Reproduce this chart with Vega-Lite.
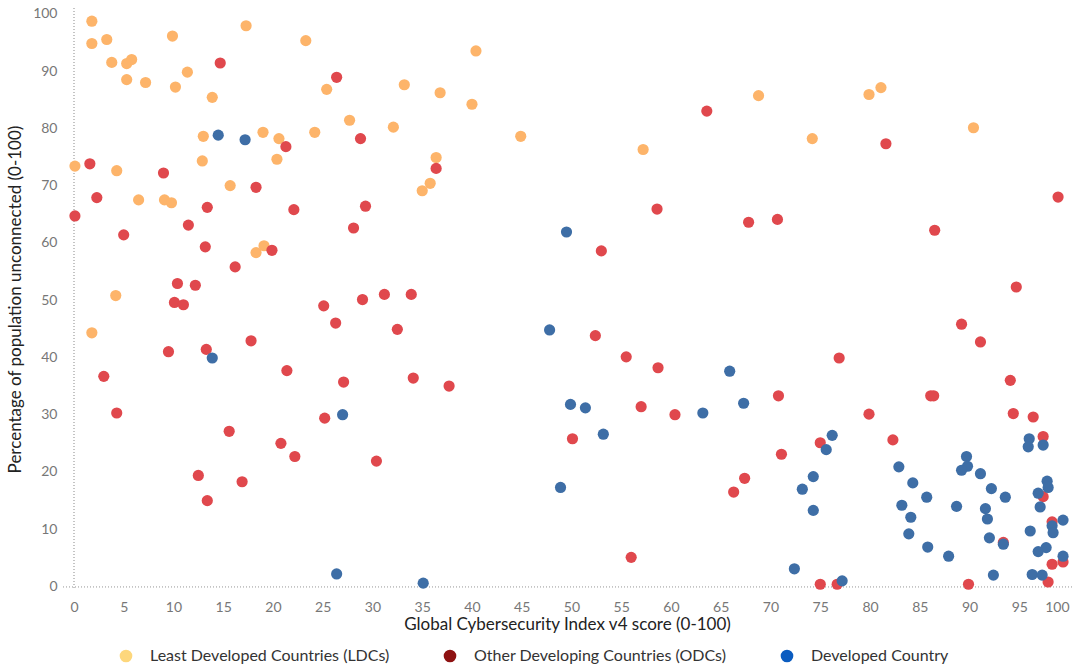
{
  "$schema": "https://vega.github.io/schema/vega-lite/v6.json",
  "width": 1010,
  "height": 582,
  "autosize": {"type": "none"},
  "padding": {"left": 62, "top": 8, "right": 4, "bottom": 80},
  "background": "white",
  "config": {
    "view": {"stroke": null},
    "font": "Lato",
    "axis": {"domain": false, "ticks": false, "gridColor": "#efefef", "gridWidth": 1, "labelColor": "#777777", "labelFont": "Lato", "labelFontSize": 14, "titleColor": "#222222", "titleFont": "Lato", "titleFontSize": 17, "titleFontWeight": "normal"}
  },
  "data": {"values": [
    {"group":"LDC","gci":1.8,"unconnected":98.7},{"group":"LDC","gci":1.8,"unconnected":94.8},{"group":"LDC","gci":3.3,"unconnected":95.5},{"group":"LDC","gci":3.8,"unconnected":91.5},{"group":"LDC","gci":5.3,"unconnected":91.3},{"group":"LDC","gci":5.8,"unconnected":92.0},{"group":"LDC","gci":5.3,"unconnected":88.5},{"group":"LDC","gci":7.2,"unconnected":88.0},{"group":"LDC","gci":9.9,"unconnected":96.1},{"group":"LDC","gci":10.2,"unconnected":87.2},{"group":"LDC","gci":11.4,"unconnected":89.8},{"group":"LDC","gci":13.9,"unconnected":85.4},{"group":"LDC","gci":17.3,"unconnected":97.9},{"group":"LDC","gci":23.3,"unconnected":95.3},{"group":"LDC","gci":25.4,"unconnected":86.8},{"group":"LDC","gci":27.7,"unconnected":81.4},{"group":"LDC","gci":13.0,"unconnected":78.6},{"group":"LDC","gci":19.0,"unconnected":79.3},{"group":"LDC","gci":20.6,"unconnected":78.2},{"group":"LDC","gci":24.2,"unconnected":79.3},{"group":"LDC","gci":12.9,"unconnected":74.3},{"group":"LDC","gci":20.4,"unconnected":74.6},{"group":"LDC","gci":0.1,"unconnected":73.4},{"group":"LDC","gci":4.3,"unconnected":72.6},{"group":"LDC","gci":15.7,"unconnected":70.0},{"group":"LDC","gci":6.5,"unconnected":67.5},{"group":"LDC","gci":9.1,"unconnected":67.5},{"group":"LDC","gci":9.8,"unconnected":67.0},{"group":"LDC","gci":18.3,"unconnected":58.3},{"group":"LDC","gci":19.1,"unconnected":59.5},{"group":"LDC","gci":4.2,"unconnected":50.8},{"group":"LDC","gci":1.8,"unconnected":44.3},{"group":"LDC","gci":40.4,"unconnected":93.5},{"group":"LDC","gci":33.2,"unconnected":87.6},{"group":"LDC","gci":36.8,"unconnected":86.2},{"group":"LDC","gci":40.0,"unconnected":84.2},{"group":"LDC","gci":32.1,"unconnected":80.2},{"group":"LDC","gci":44.9,"unconnected":78.6},{"group":"LDC","gci":57.2,"unconnected":76.3},{"group":"LDC","gci":36.4,"unconnected":74.9},{"group":"LDC","gci":35.8,"unconnected":70.4},{"group":"LDC","gci":35.0,"unconnected":69.1},{"group":"LDC","gci":68.8,"unconnected":85.7},{"group":"LDC","gci":79.9,"unconnected":85.9},{"group":"LDC","gci":81.1,"unconnected":87.1},{"group":"LDC","gci":74.2,"unconnected":78.2},{"group":"LDC","gci":90.4,"unconnected":80.1},
    {"group":"ODC","gci":14.7,"unconnected":91.4},{"group":"ODC","gci":26.4,"unconnected":88.9},{"group":"ODC","gci":28.8,"unconnected":78.2},{"group":"ODC","gci":21.3,"unconnected":76.8},{"group":"ODC","gci":1.6,"unconnected":73.8},{"group":"ODC","gci":9.0,"unconnected":72.2},{"group":"ODC","gci":18.3,"unconnected":69.7},{"group":"ODC","gci":2.3,"unconnected":67.9},{"group":"ODC","gci":13.4,"unconnected":66.2},{"group":"ODC","gci":22.1,"unconnected":65.8},{"group":"ODC","gci":0.1,"unconnected":64.7},{"group":"ODC","gci":11.5,"unconnected":63.1},{"group":"ODC","gci":28.1,"unconnected":62.6},{"group":"ODC","gci":5.0,"unconnected":61.4},{"group":"ODC","gci":13.2,"unconnected":59.3},{"group":"ODC","gci":19.9,"unconnected":58.7},{"group":"ODC","gci":16.2,"unconnected":55.8},{"group":"ODC","gci":10.4,"unconnected":52.9},{"group":"ODC","gci":12.2,"unconnected":52.6},{"group":"ODC","gci":10.1,"unconnected":49.6},{"group":"ODC","gci":11.0,"unconnected":49.2},{"group":"ODC","gci":25.1,"unconnected":49.0},{"group":"ODC","gci":26.3,"unconnected":46.0},{"group":"ODC","gci":9.5,"unconnected":41.0},{"group":"ODC","gci":13.3,"unconnected":41.4},{"group":"ODC","gci":17.8,"unconnected":42.9},{"group":"ODC","gci":3.0,"unconnected":36.7},{"group":"ODC","gci":21.4,"unconnected":37.7},{"group":"ODC","gci":27.1,"unconnected":35.7},{"group":"ODC","gci":4.3,"unconnected":30.3},{"group":"ODC","gci":25.2,"unconnected":29.4},{"group":"ODC","gci":15.6,"unconnected":27.1},{"group":"ODC","gci":20.8,"unconnected":25.0},{"group":"ODC","gci":22.2,"unconnected":22.7},{"group":"ODC","gci":12.5,"unconnected":19.4},{"group":"ODC","gci":16.9,"unconnected":18.3},{"group":"ODC","gci":13.4,"unconnected":15.0},{"group":"ODC","gci":63.6,"unconnected":83.0},{"group":"ODC","gci":36.4,"unconnected":73.0},{"group":"ODC","gci":29.3,"unconnected":66.4},{"group":"ODC","gci":58.6,"unconnected":65.9},{"group":"ODC","gci":53.0,"unconnected":58.6},{"group":"ODC","gci":29.0,"unconnected":50.1},{"group":"ODC","gci":31.2,"unconnected":51.0},{"group":"ODC","gci":33.9,"unconnected":51.0},{"group":"ODC","gci":32.5,"unconnected":44.9},{"group":"ODC","gci":52.4,"unconnected":43.8},{"group":"ODC","gci":55.5,"unconnected":40.1},{"group":"ODC","gci":58.7,"unconnected":38.2},{"group":"ODC","gci":34.1,"unconnected":36.4},{"group":"ODC","gci":37.7,"unconnected":35.0},{"group":"ODC","gci":57.0,"unconnected":31.4},{"group":"ODC","gci":60.4,"unconnected":30.0},{"group":"ODC","gci":50.1,"unconnected":25.8},{"group":"ODC","gci":30.4,"unconnected":21.9},{"group":"ODC","gci":56.0,"unconnected":5.1},{"group":"ODC","gci":81.6,"unconnected":77.3},{"group":"ODC","gci":67.8,"unconnected":63.6},{"group":"ODC","gci":70.7,"unconnected":64.1},{"group":"ODC","gci":86.5,"unconnected":62.2},{"group":"ODC","gci":98.9,"unconnected":68.0},{"group":"ODC","gci":94.7,"unconnected":52.3},{"group":"ODC","gci":89.2,"unconnected":45.8},{"group":"ODC","gci":91.1,"unconnected":42.7},{"group":"ODC","gci":76.9,"unconnected":39.9},{"group":"ODC","gci":94.1,"unconnected":36.0},{"group":"ODC","gci":70.8,"unconnected":33.3},{"group":"ODC","gci":86.1,"unconnected":33.3},{"group":"ODC","gci":86.4,"unconnected":33.3},{"group":"ODC","gci":79.9,"unconnected":30.1},{"group":"ODC","gci":94.4,"unconnected":30.2},{"group":"ODC","gci":96.4,"unconnected":29.6},{"group":"ODC","gci":82.3,"unconnected":25.6},{"group":"ODC","gci":75.0,"unconnected":25.1},{"group":"ODC","gci":97.4,"unconnected":26.2},{"group":"ODC","gci":71.1,"unconnected":23.1},{"group":"ODC","gci":67.4,"unconnected":18.9},{"group":"ODC","gci":66.3,"unconnected":16.5},{"group":"ODC","gci":97.4,"unconnected":15.7},{"group":"ODC","gci":98.3,"unconnected":11.3},{"group":"ODC","gci":93.4,"unconnected":7.7},{"group":"ODC","gci":98.3,"unconnected":3.9},{"group":"ODC","gci":99.4,"unconnected":4.3},{"group":"ODC","gci":75.0,"unconnected":0.4},{"group":"ODC","gci":76.7,"unconnected":0.4},{"group":"ODC","gci":89.9,"unconnected":0.4},{"group":"ODC","gci":97.9,"unconnected":0.8},
    {"group":"DC","gci":14.5,"unconnected":78.8},{"group":"DC","gci":17.2,"unconnected":78.0},{"group":"DC","gci":13.9,"unconnected":39.9},{"group":"DC","gci":27.0,"unconnected":30.0},{"group":"DC","gci":26.4,"unconnected":2.2},{"group":"DC","gci":49.5,"unconnected":61.9},{"group":"DC","gci":47.8,"unconnected":44.8},{"group":"DC","gci":49.9,"unconnected":31.8},{"group":"DC","gci":51.4,"unconnected":31.2},{"group":"DC","gci":63.2,"unconnected":30.3},{"group":"DC","gci":53.2,"unconnected":26.6},{"group":"DC","gci":48.9,"unconnected":17.3},{"group":"DC","gci":35.1,"unconnected":0.6},{"group":"DC","gci":65.9,"unconnected":37.6},{"group":"DC","gci":67.3,"unconnected":32.0},{"group":"DC","gci":76.2,"unconnected":26.4},{"group":"DC","gci":75.6,"unconnected":23.9},{"group":"DC","gci":74.3,"unconnected":19.2},{"group":"DC","gci":73.2,"unconnected":17.0},{"group":"DC","gci":74.3,"unconnected":13.3},{"group":"DC","gci":72.4,"unconnected":3.1},{"group":"DC","gci":77.2,"unconnected":1.0},{"group":"DC","gci":82.9,"unconnected":20.9},{"group":"DC","gci":84.3,"unconnected":18.1},{"group":"DC","gci":85.7,"unconnected":15.6},{"group":"DC","gci":83.2,"unconnected":14.2},{"group":"DC","gci":84.1,"unconnected":12.1},{"group":"DC","gci":83.9,"unconnected":9.2},{"group":"DC","gci":85.8,"unconnected":6.9},{"group":"DC","gci":87.9,"unconnected":5.3},{"group":"DC","gci":88.7,"unconnected":14.0},{"group":"DC","gci":89.7,"unconnected":22.7},{"group":"DC","gci":89.8,"unconnected":21.0},{"group":"DC","gci":89.2,"unconnected":20.3},{"group":"DC","gci":91.1,"unconnected":19.7},{"group":"DC","gci":92.2,"unconnected":17.1},{"group":"DC","gci":93.6,"unconnected":15.6},{"group":"DC","gci":91.6,"unconnected":13.6},{"group":"DC","gci":91.8,"unconnected":11.8},{"group":"DC","gci":92.0,"unconnected":8.5},{"group":"DC","gci":93.4,"unconnected":7.4},{"group":"DC","gci":92.4,"unconnected":2.0},{"group":"DC","gci":96.0,"unconnected":25.8},{"group":"DC","gci":95.9,"unconnected":24.4},{"group":"DC","gci":97.4,"unconnected":24.7},{"group":"DC","gci":97.8,"unconnected":18.4},{"group":"DC","gci":97.9,"unconnected":17.3},{"group":"DC","gci":96.9,"unconnected":16.3},{"group":"DC","gci":97.1,"unconnected":13.9},{"group":"DC","gci":99.4,"unconnected":11.6},{"group":"DC","gci":98.3,"unconnected":10.6},{"group":"DC","gci":98.4,"unconnected":9.4},{"group":"DC","gci":96.1,"unconnected":9.7},{"group":"DC","gci":97.7,"unconnected":6.8},{"group":"DC","gci":96.9,"unconnected":6.1},{"group":"DC","gci":99.4,"unconnected":5.3},{"group":"DC","gci":96.3,"unconnected":2.1},{"group":"DC","gci":97.3,"unconnected":2.0}
  ]},
  "resolve": {"scale": {"color": "independent"}, "legend": {"color": "independent"}},
  "layer": [
    {
      "mark": {"type": "rule", "color": "#c4c4c4", "strokeDash": [1, 2], "strokeWidth": 1},
      "encoding": {"x": {"datum": 0, "type": "quantitative", "scale": {"domain": [-1.2, 100.3], "nice": false, "zero": false}}}
    },
    {
      "mark": {"type": "rule", "color": "#c4c4c4", "strokeDash": [1, 2], "strokeWidth": 1},
      "encoding": {"y": {"datum": 0, "type": "quantitative", "scale": {"domain": [-0.6, 101], "nice": false, "zero": false}}}
    },
    {
      "mark": {"type": "point", "filled": true, "opacity": 1, "size": 90, "shape": "circle"},
      "encoding": {
        "x": {"field": "gci", "type": "quantitative", "scale": {"domain": [-1.2, 100.3], "nice": false, "zero": false}},
        "y": {"field": "unconnected", "type": "quantitative", "scale": {"domain": [-0.6, 101], "nice": false, "zero": false}},
        "color": {"field": "group", "type": "nominal",
          "scale": {"domain": ["LDC", "ODC", "DC"], "range": ["#FDD77C", "#8E1212", "#0B5CC0"]},
          "legend": {
            "title": null, "orient": "none", "direction": "horizontal", "legendX": 56, "legendY": 640,
            "labelExpr": "datum.value == 'LDC' ? 'Least Developed Countries (LDCs)' : datum.value == 'ODC' ? 'Other Developing Countries (ODCs)' : 'Developed Country'",
            "labelFont": "Lato", "labelFontSize": 16, "labelColor": "#333333", "labelOffset": 16, "labelLimit": 400, "columnPadding": 52,
            "symbolSize": 160, "symbolType": "circle", "symbolStrokeWidth": 0
          }
        }
      }
    },
    {
      "mark": {"type": "point", "filled": true, "opacity": 1, "size": 125, "shape": "circle"},
      "encoding": {
        "x": {"field": "gci", "type": "quantitative", "scale": {"domain": [-1.2, 100.3], "nice": false, "zero": false},
          "axis": {"values": [0,5,10,15,20,25,30,35,40,45,50,55,60,65,70,75,80,85,90,95,100], "title": "Global Cybersecurity Index v4 score (0-100)", "labelPadding": 10, "titlePadding": 2, "labelFlush": 5}},
        "y": {"field": "unconnected", "type": "quantitative", "scale": {"domain": [-0.6, 101], "nice": false, "zero": false},
          "axis": {"values": [0,10,20,30,40,50,60,70,80,90,100], "title": "Percentage of population unconnected (0-100)", "labelPadding": 5, "titlePadding": 8}},
        "color": {"field": "group", "type": "nominal",
          "scale": {"domain": ["LDC", "ODC", "DC"], "range": ["#FDB46A", "#E0484D", "#3E6EA6"]},
          "legend": null
        }
      }
    }
  ]
}
